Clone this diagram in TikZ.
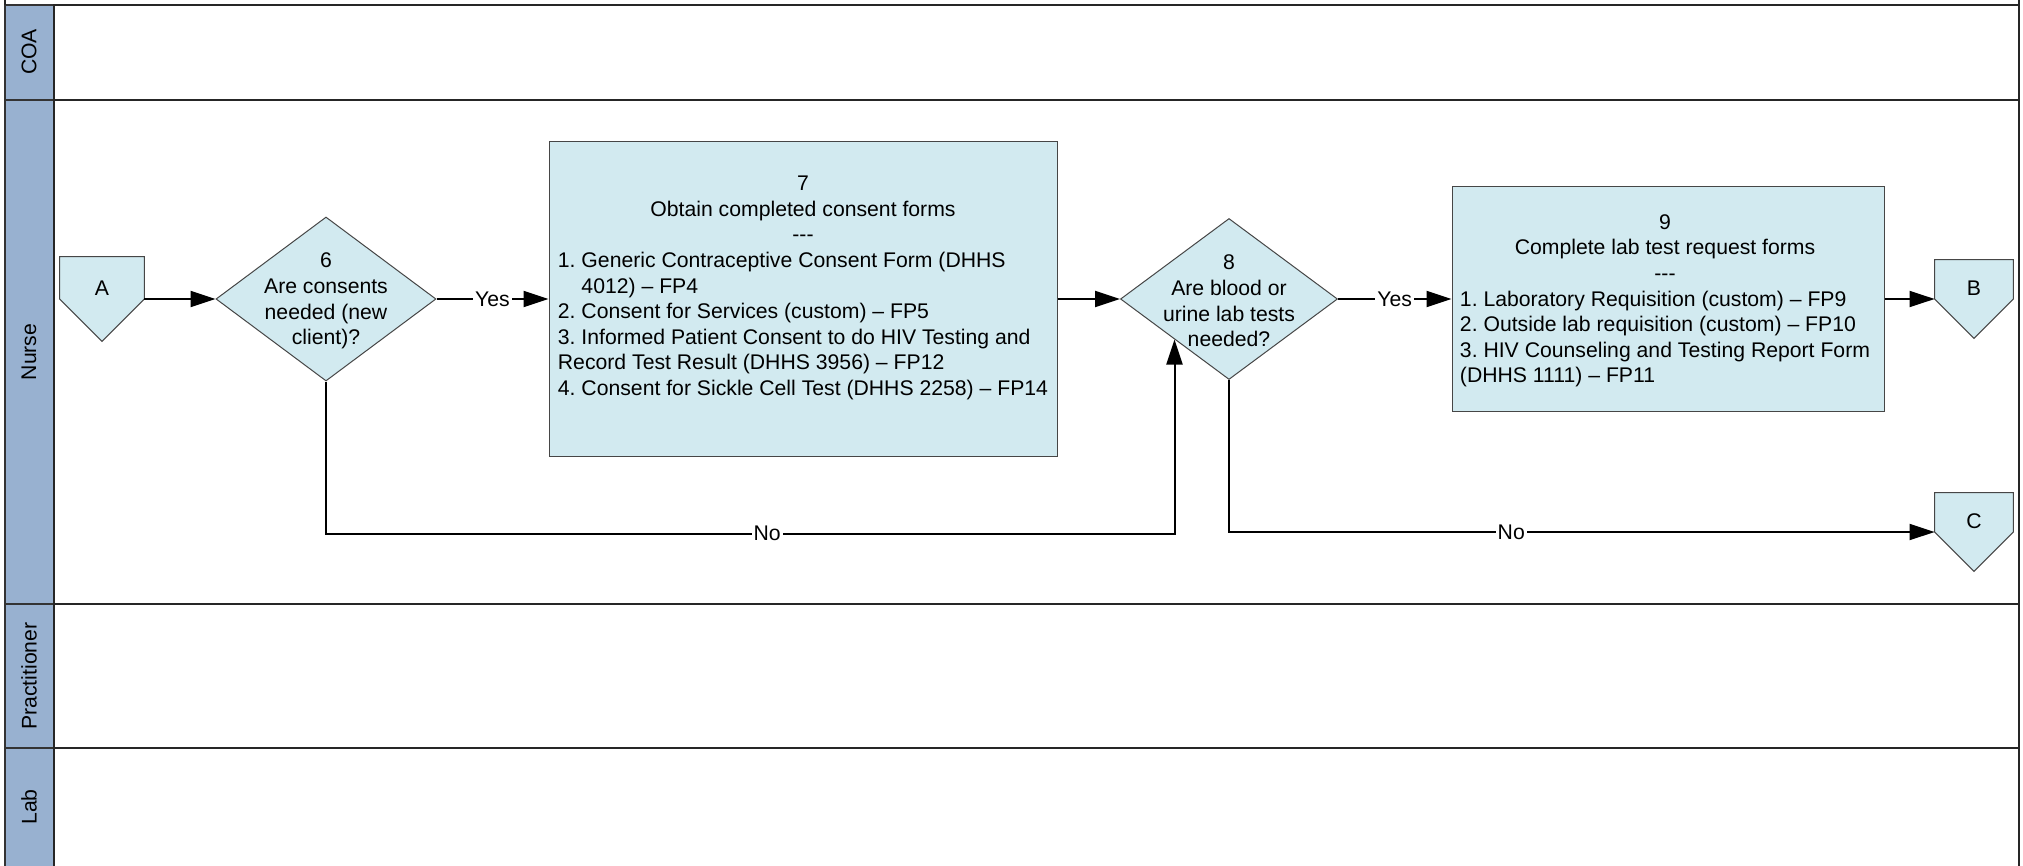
\documentclass[tikz,border=0pt]{standalone}
\usepackage{fontspec}
\setmainfont{Liberation Sans}
\usetikzlibrary{shapes.geometric,arrows.meta,backgrounds}
\frenchspacing

\definecolor{laneblue}{RGB}{152,177,208}
\definecolor{shapefill}{RGB}{210,234,240}
\definecolor{edgegray}{RGB}{70,70,70}

\tikzset{
  flow/.style={line width=1pt, -{Triangle[length=12.5pt,width=8pt]}},
  process/.style={draw=edgegray, line width=0.5pt, fill=shapefill, inner sep=0pt},
  decision/.style={diamond, draw=edgegray, line width=0.5pt, fill=shapefill, inner sep=0pt},
  offpage/.style={inner sep=0pt, text depth=11pt},
  offshape/.style={draw=edgegray, line width=0.5pt, fill=shapefill},
  boxtext/.style={inner sep=0pt, align=center},
  lbl/.style={fill=white, inner sep=1pt},
  lanehead/.style={draw=black!80, line width=1pt, fill=laneblue},
  laneline/.style={draw=black!85, line width=1pt},
  lanelabel/.style={rotate=90}
}

\begin{document}
\begin{tikzpicture}[x=0.5pt, y=-0.5pt, every node/.append style={font=\fontsize{10.6}{12.8}\selectfont}]
\useasboundingbox (0,0) rectangle (2023,866);
\begin{scope}[on background layer]
  \fill[white] (0,0) rectangle (2023,866);
\end{scope}

% swimlanes
\foreach \lane/\ytop/\ybot/\ly in {COA/5/100/52, Nurse/100/604/352, Practitioner/604/748/676, Lab/748/880/807} {
  \draw[lanehead] (5,\ytop) rectangle (54,\ybot);
  \draw[laneline] (54,\ytop) rectangle (2019,\ybot);
  \node[lanelabel] (lane\lane) at (29,\ly) {\lane};
}
\draw[laneline] (5,-5) -- (5,5) (2019,-5) -- (2019,5);

% steps
\node[offpage, minimum size=42pt] (A) at (102,299) {A};
\node[decision, minimum width=110pt, minimum height=82pt] (d6) at (326,299) {};
\node[boxtext] (d6text) at (326,301) {6\\Are consents\\needed (new\\client)?};
\node[process, minimum width=254pt, minimum height=157pt] (p7) at (803,299) {};
\node[inner sep=0pt] (p7text) at (803,288) {\begin{tabular}{@{}l@{}}
  \multicolumn{1}{@{}c@{}}{7}\\
  \multicolumn{1}{@{}c@{}}{Obtain completed consent forms}\\
  \multicolumn{1}{@{}c@{}}{-{}-{}-}\\
  1. Generic Contraceptive Consent Form (DHHS\\
  \hphantom{1. }4012) – FP4\\
  2. Consent for Services (custom) – FP5\\
  3. Informed Patient Consent to do HIV Testing and\\
  Record Test Result (DHHS 3956) – FP12\\
  4. Consent for Sickle Cell Test (DHHS 2258) – FP14
\end{tabular}};
\node[decision, minimum width=108.5pt, minimum height=80.5pt] (d8) at (1229,299) {};
\node[boxtext] (d8text) at (1229,301) {8\\Are blood or\\urine lab tests\\needed?};
\node[process, minimum width=216pt, minimum height=112pt] (p9) at (1668,299) {};
\node[inner sep=0pt] (p9text) at (1665,301) {\begin{tabular}{@{}l@{}}
  \multicolumn{1}{@{}c@{}}{9}\\
  \multicolumn{1}{@{}c@{}}{Complete lab test request forms}\\
  \multicolumn{1}{@{}c@{}}{-{}-{}-}\\
  1. Laboratory Requisition (custom) – FP9\\
  2. Outside lab requisition (custom) – FP10\\
  3. HIV Counseling and Testing Report Form\\
  (DHHS 1111) – FP11
\end{tabular}};
\node[offpage, minimum size=39pt] (B) at (1974,299) {B};
\node[offpage, minimum size=39pt] (C) at (1974,532) {C};

% off-page connector shapes
\begin{scope}[on background layer]
  \foreach \c in {A,B,C}
    \draw[offshape] (\c.west) -- (\c.north west) -- (\c.north east) -- (\c.east) -- (\c.south) -- cycle;
\end{scope}

% flows
\draw[flow] (A.east) -- (d6.west);
\draw[flow] (d6.east) -- node[lbl] (yes6) {Yes} (p7.west);
\draw[flow] (p7.east) -- (d8.west);
\draw[flow] (d6.south) -- ++(0,152) -| node[lbl, pos=0.26] (no6) {No} (d8.south west);
\draw[flow] (d8.east) -- node[lbl] (yes8) {Yes} (p9.west);
\draw[flow] (p9.east) -- (B.west);
\draw[flow] (d8.south) |- node[lbl, pos=0.7] (no8) {No} (C.west);
\end{tikzpicture}
\end{document}
